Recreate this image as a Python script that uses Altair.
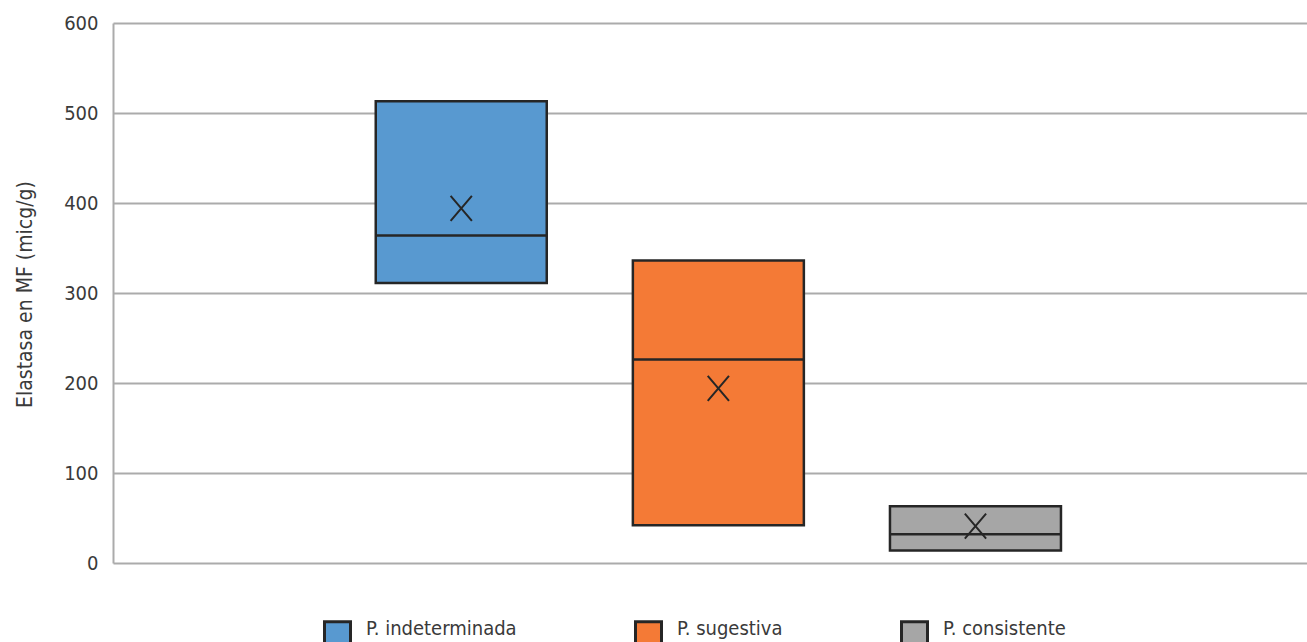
import altair as alt
import pandas as pd

series = ["P. indeterminada", "P. sugestiva", "P. consistente"]
position = [1, 2, 3]
q1 = [311, 42, 14]
median = [364, 226, 32]
q3 = [513, 336, 63]
mean = [394, 194, 41]
colors = ["#5899D0", "#F47A36", "#A6A6A6"]
y_ticks = [0, 100, 200, 300, 400, 500, 600]

FONT = "DejaVu Sans Condensed, sans-serif"
INK = "#262626"
TXT = "#3a3a3a"
GRID = "#ABABAB"

df = pd.DataFrame({
    "series": series, "pos": position, "q1": q1, "median": median,
    "q3": q3, "mean": mean,
})

x_enc = alt.X("pos:Q", scale=alt.Scale(domain=[-0.335, 4.27], nice=False, zero=False), axis=None)
y_scale = alt.Scale(domain=[0, 600], nice=False, zero=True)

boxes = alt.Chart(df).mark_bar(size=171, stroke=INK, strokeWidth=2.5, opacity=1).encode(
    x=x_enc,
    y=alt.Y("q1:Q", scale=y_scale, axis=alt.Axis(
        values=y_ticks, title="Elastasa en MF (micg/g)", ticks=False, labelPadding=15,
        domainColor=GRID, domainWidth=2, gridColor=GRID, gridWidth=2, grid=True,
        labelFont=FONT, labelFontSize=20, labelColor=TXT,
        titleFont=FONT, titleFontSize=21, titleFontWeight="normal", titleColor=TXT,
        titleX=-88, titleY=271, titleAngle=270, titleAlign="center", titleBaseline="middle",
    )),
    y2="q3:Q",
    color=alt.Color("series:N", scale=alt.Scale(domain=series, range=colors), legend=alt.Legend(
        orient="none", legendX=210, legendY=597, direction="horizontal", title=None,
        symbolType="square", symbolSize=676, symbolStrokeColor=INK, symbolStrokeWidth=3,
        symbolOpacity=1, labelFont=FONT, labelFontSize=20, labelColor=TXT, labelOffset=14,
        labelBaseline="alphabetic", columnPadding=112, labelLimit=400,
    )),
)

medians = alt.Chart(df).mark_tick(orient="horizontal", size=171, thickness=2.5, color=INK, opacity=1).encode(
    x=x_enc,
    y=alt.Y("median:Q", scale=y_scale),
)

means = alt.Chart(df).mark_point(
    shape="M-0.85,-1L0.85,1M-0.85,1L0.85,-1", filled=False, size=625,
    stroke=INK, strokeWidth=2, opacity=1,
).encode(
    x=x_enc,
    y=alt.Y("mean:Q", scale=y_scale),
)

chart = alt.layer(boxes, medians, means).properties(
    width=1194, height=540,
    autosize=alt.AutoSizeParams(type="none"),
    padding={"left": 113, "top": 23, "right": 0, "bottom": 79},
    background="white",
).configure_view(strokeWidth=0)

chart.save("out.html", embed_options={"renderer": "svg", "actions": False})
